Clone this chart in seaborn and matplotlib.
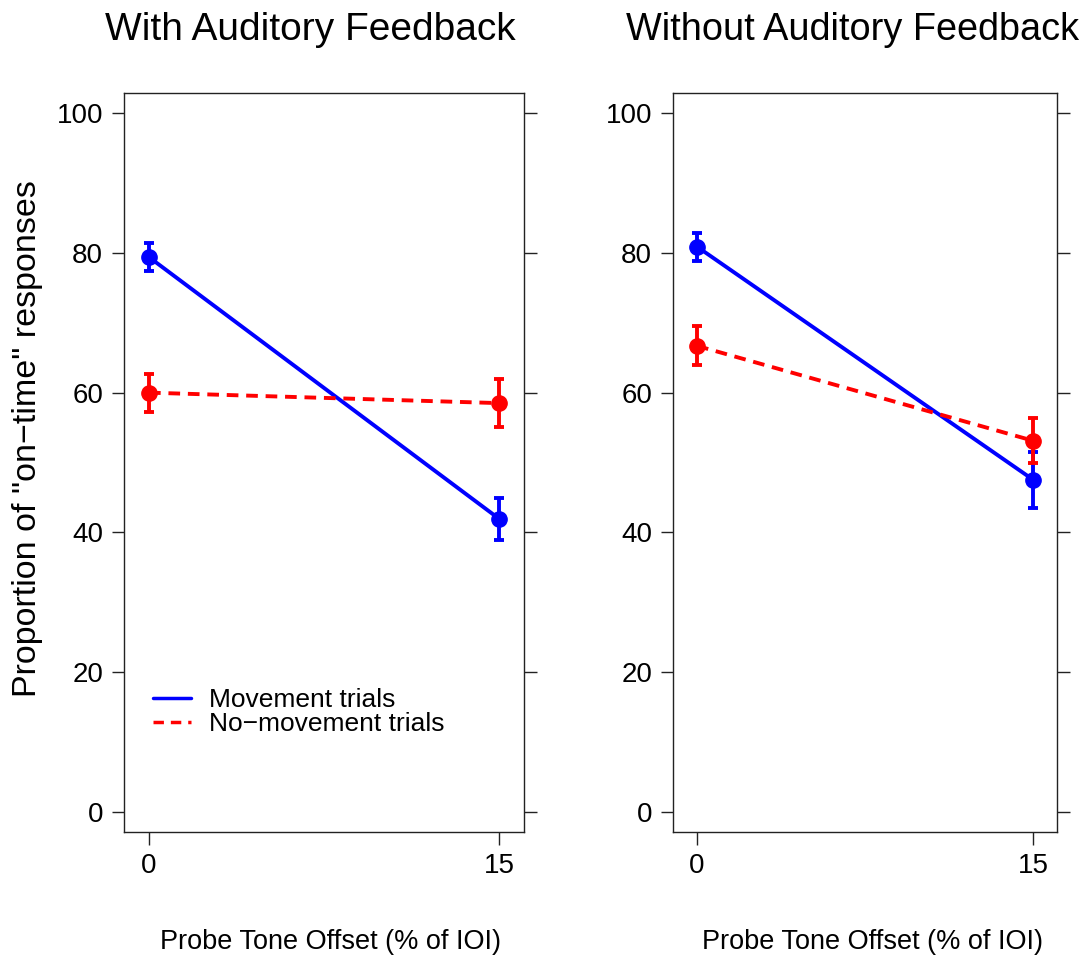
import numpy as np
import pandas as pd
import matplotlib
matplotlib.use("Agg")
import matplotlib.pyplot as plt
import seaborn as sns

# values (proportion of on-time responses, %)
offsets = [0, 15]
with_move = [79.4, 41.9]
with_move_err = [2.0, 3.0]
with_nomove = [60.0, 58.5]
with_nomove_err = [2.7, 3.4]
without_move = [80.9, 47.5]
without_move_err = [2.0, 4.0]
without_nomove = [66.7, 53.1]
without_nomove_err = [2.8, 3.2]

panel_titles = ["With Auditory Feedback", "Without Auditory Feedback"]
series_labels = ["Movement trials", "No\u2212movement trials"]

sns.set_style("ticks")
plt.rcParams["font.family"] = ["Liberation Sans", "DejaVu Sans"]
plt.rcParams["text.color"] = "black"
plt.rcParams["xtick.color"] = "black"
plt.rcParams["ytick.color"] = "black"

fig = plt.figure(figsize=(10.82, 9.58), dpi=100)
ax1 = fig.add_axes([124 / 1082, 1 - 832 / 958, 400 / 1082, 739 / 958])
ax2 = fig.add_axes([673 / 1082, 1 - 832 / 958, 384 / 1082, 739 / 958])

panels = [
    (ax1, with_move, with_move_err, with_nomove, with_nomove_err),
    (ax2, without_move, without_move_err, without_nomove, without_nomove_err),
]

for ax, mv, mv_err, nm, nm_err in panels:
    df = pd.DataFrame({
        "offset": offsets * 2,
        "value": mv + nm,
        "trial": [series_labels[0]] * 2 + [series_labels[1]] * 2,
    })
    sns.lineplot(data=df, x="offset", y="value", hue="trial", style="trial",
                 palette={series_labels[0]: "blue", series_labels[1]: "red"},
                 dashes={series_labels[0]: "", series_labels[1]: (3, 2)},
                 linewidth=2.8, ax=ax, legend=False, zorder=3)
    for vals, errs, col in [(mv, mv_err, "blue"), (nm, nm_err, "red")]:
        ax.errorbar(offsets, vals, yerr=errs, fmt="o", color=col, ms=11,
                    elinewidth=2.8, capsize=3.5, capthick=2.8, zorder=4)
    ax.set_xlim(-1.07, 16.05)
    ax.set_ylim(-2.9, 102.9)
    ax.set_xticks(offsets)
    ax.set_yticks([0, 20, 40, 60, 80, 100])
    ax.tick_params(axis="both", labelsize=20, length=9, width=1, direction="out",
                   color="#222222", labelcolor="black", pad=6)
    ax.tick_params(axis="y", right=True, labelright=False)
    ax.set_xlabel("")
    ax.set_ylabel("")
    for s in ax.spines.values():
        s.set_visible(True)
        s.set_linewidth(1)
        s.set_color("#222222")

# legend in the left panel
ax1.plot([], [], color="blue", lw=2.5, label=series_labels[0])
ax1.plot([], [], color="red", lw=2.5, ls=(0, (3, 2)), label=series_labels[1])
ax1.legend(loc="lower left", bbox_to_anchor=(0.045, 0.115), frameon=False,
           fontsize=19, handlelength=1.45, handletextpad=0.7, labelspacing=0.0,
           borderaxespad=0)

fig.text(310 / 1082, 1 - 30 / 958, panel_titles[0], fontsize=28,
         ha="center", va="center")
fig.text(852 / 1082, 1 - 30 / 958, panel_titles[1], fontsize=27.3,
         ha="center", va="center")
fig.text(330 / 1082, 1 - 942 / 958, "Probe Tone Offset (% of IOI)", fontsize=19.5,
         ha="center", va="center")
fig.text(873 / 1082, 1 - 942 / 958, "Probe Tone Offset (% of IOI)", fontsize=19.5,
         ha="center", va="center")
fig.text(28 / 1082, 1 - 439 / 958, "Proportion of \"on\u2212time\" responses",
         fontsize=24.5, rotation=90, ha="center", va="center")

fig.savefig("out.png", dpi=100)
